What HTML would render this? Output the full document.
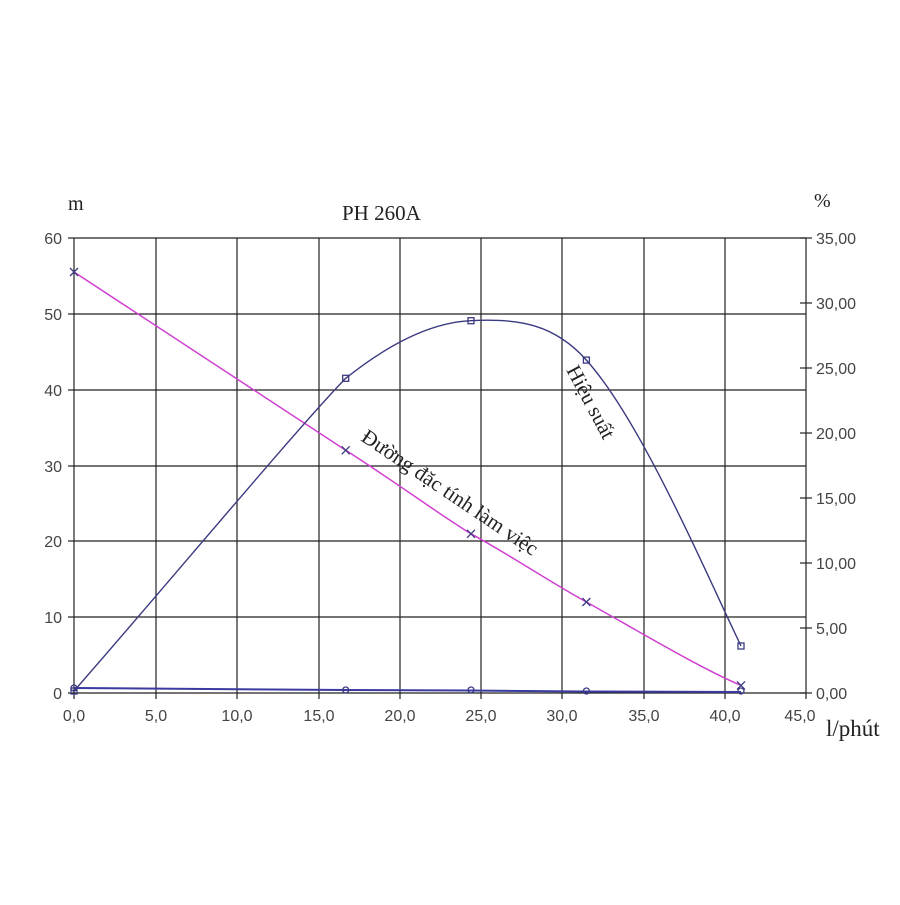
<!DOCTYPE html>
<html><head><meta charset="utf-8"><style>body{margin:0;background:#fff}</style></head>
<body>
<svg width="900" height="900" viewBox="0 0 900 900" xmlns="http://www.w3.org/2000/svg">
<rect width="900" height="900" fill="#fff"/>
<g stroke="#222" stroke-width="1.2">
<line x1="74" y1="238" x2="806" y2="238"/><line x1="74" y1="314" x2="806" y2="314"/>
<line x1="74" y1="390" x2="806" y2="390"/><line x1="74" y1="466" x2="806" y2="466"/>
<line x1="74" y1="541" x2="806" y2="541"/><line x1="74" y1="617" x2="806" y2="617"/>
<line x1="68" y1="693" x2="806" y2="693"/>
<line x1="74" y1="238" x2="74" y2="699"/><line x1="156" y1="238" x2="156" y2="699"/>
<line x1="237" y1="238" x2="237" y2="699"/><line x1="319" y1="238" x2="319" y2="699"/>
<line x1="400" y1="238" x2="400" y2="699"/><line x1="481" y1="238" x2="481" y2="699"/>
<line x1="562" y1="238" x2="562" y2="699"/><line x1="644" y1="238" x2="644" y2="699"/>
<line x1="725" y1="238" x2="725" y2="699"/><line x1="806" y1="238" x2="806" y2="699"/>
<line x1="68" y1="238" x2="74" y2="238"/><line x1="68" y1="314" x2="74" y2="314"/><line x1="68" y1="390" x2="74" y2="390"/><line x1="68" y1="466" x2="74" y2="466"/><line x1="68" y1="541" x2="74" y2="541"/><line x1="68" y1="617" x2="74" y2="617"/>
<line x1="800" y1="238" x2="812" y2="238"/><line x1="800" y1="303" x2="812" y2="303"/><line x1="800" y1="368" x2="812" y2="368"/><line x1="800" y1="433" x2="812" y2="433"/><line x1="800" y1="498" x2="812" y2="498"/><line x1="800" y1="563" x2="812" y2="563"/><line x1="800" y1="628" x2="812" y2="628"/><line x1="800" y1="693" x2="812" y2="693"/>
</g>
<g font-family="Liberation Sans, sans-serif" font-size="16" fill="#444" text-anchor="end">
<text x="62" y="244">60</text><text x="62" y="320">50</text><text x="62" y="396">40</text><text x="62" y="472">30</text><text x="62" y="547">20</text><text x="62" y="623">10</text><text x="62" y="699">0</text>
</g>
<g font-family="Liberation Sans, sans-serif" font-size="16" fill="#444">
<text x="816" y="244">35,00</text><text x="816" y="309">30,00</text><text x="816" y="374">25,00</text><text x="816" y="439">20,00</text><text x="816" y="504">15,00</text><text x="816" y="569">10,00</text><text x="816" y="634">5,00</text><text x="816" y="699">0,00</text>
</g>
<g font-family="Liberation Sans, sans-serif" font-size="16" fill="#444" text-anchor="middle">
<text x="74" y="721">0,0</text><text x="156" y="721">5,0</text><text x="237" y="721">10,0</text><text x="319" y="721">15,0</text><text x="400" y="721">20,0</text><text x="481" y="721">25,0</text><text x="562" y="721">30,0</text><text x="644" y="721">35,0</text><text x="725" y="721">40,0</text><text x="800" y="721">45,0</text>
</g>
<g font-family="Liberation Serif, serif" fill="#222">
<text x="342" y="220" font-size="21">PH 260A</text>
<text x="68" y="210" font-size="20">m</text>
<text x="814" y="207" font-size="20">%</text>
<text x="826" y="736" font-size="23">l/phút</text>
<text transform="translate(360,440) rotate(34)" font-size="21">Đường đặc tính làm việc</text>
<text transform="translate(566,370) rotate(62)" font-size="21">Hiệu suất</text>
</g>
<path d="M74 272 L345.7 450.3 C400 485, 440 515, 471 533.8 C510 555, 550 582, 586.4 602 C640 632, 700 668, 741 685.4" fill="none" stroke="#d040d0" stroke-width="1.5"/>
<path d="M74 691 C165 587, 300 425, 345.7 378.3 C400 335, 440 322, 471 320.7 C520 318, 555 325, 586.4 360.1 C640 420, 700 560, 741 646" fill="none" stroke="#3a3a80" stroke-width="1.4"/>
<path d="M74 688 L345.7 690 L471 690.5 L586.4 691.5 L741 692" fill="none" stroke="#3a3aa0" stroke-width="2"/>
<g fill="none" stroke="#3a3a80" stroke-width="1.3">
<rect x="71" y="688" width="6" height="6"/><rect x="342.7" y="375.3" width="6" height="6"/><rect x="468" y="317.7" width="6" height="6"/><rect x="583.4" y="357.1" width="6" height="6"/><rect x="738" y="643" width="6" height="6"/>
<circle cx="74" cy="688" r="3"/><circle cx="345.7" cy="690" r="3"/><circle cx="471" cy="690" r="3"/><circle cx="586.4" cy="691" r="3"/><circle cx="741" cy="691" r="3"/>
<path d="M70 268l8 8M78 268l-8 8M341.7 446.3l8 8M349.7 446.3l-8 8M467 529.8l8 8M475 529.8l-8 8M582.4 598l8 8M590.4 598l-8 8M737 681.4l8 8M745 681.4l-8 8"/>
</g>
</svg>
</body></html>
